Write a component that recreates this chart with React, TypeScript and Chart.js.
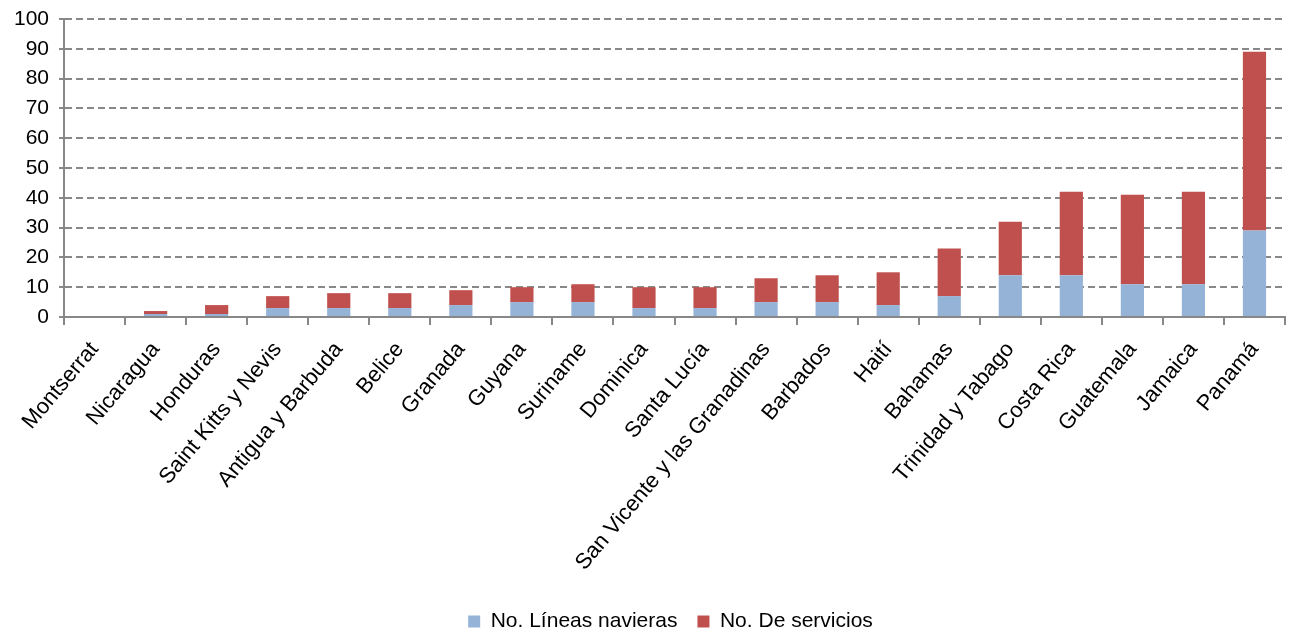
import React, { useEffect, useRef } from "react";
import { Chart, registerables } from "chart.js";

Chart.register(...registerables);

const categories = [
  "Montserrat", "Nicaragua", "Honduras", "Saint Kitts y Nevis", "Antigua y Barbuda",
  "Belice", "Granada", "Guyana", "Suriname", "Dominica", "Santa Lucía",
  "San Vicente y las Granadinas", "Barbados", "Haití", "Bahamas", "Trinidad y Tabago",
  "Costa Rica", "Guatemala", "Jamaica", "Panamá",
];
const lineasNavieras = [0, 1, 1, 3, 3, 3, 4, 5, 5, 3, 3, 5, 5, 4, 7, 14, 14, 11, 11, 29];
const servicios = [0, 1, 3, 4, 5, 5, 5, 5, 6, 7, 7, 8, 9, 11, 16, 18, 28, 30, 31, 60];
const yTicks = [0, 10, 20, 30, 40, 50, 60, 70, 80, 90, 100];

const FONT = "'Liberation Sans', Arial, sans-serif";
const FS = 21;
const CANVAS_H = 642;

const legendShift = {
  id: "legendShift",
  afterUpdate(chart: any) {
    const lg = chart.legend;
    if (lg) {
      lg.left += 26;
      lg.right += 26;
    }
  },
};

export default function App() {
  const ref = useRef<HTMLCanvasElement | null>(null);
  useEffect(() => {
    document.body.style.margin = "0";
    document.body.style.overflow = "hidden";
    const ctx = ref.current!;
    const chart = new Chart(ctx, {
      type: "bar",
      plugins: [legendShift],
      data: {
        labels: categories,
        datasets: [
          {
            label: "No. Líneas navieras",
            data: lineasNavieras,
            backgroundColor: "#95B3D7",
            categoryPercentage: 1,
            barPercentage: 0.38,
          },
          {
            label: "No. De servicios",
            data: servicios,
            backgroundColor: "#C0504D",
            categoryPercentage: 1,
            barPercentage: 0.38,
          },
        ],
      },
      options: {
        animation: false,
        responsive: false,
        maintainAspectRatio: false,
        layout: { padding: { top: 0, right: 6, left: 4, bottom: 0 } },
        plugins: {
          tooltip: { enabled: false },
          legend: {
            position: "bottom",
            labels: {
              boxWidth: 12,
              boxHeight: 12,
              color: "#000",
              font: { family: FONT, size: FS },
              padding: 20,
            },
          },
        },
        scales: {
          x: {
            stacked: true,
            afterFit: (axis: any) => {
              axis.height = 274;
            },
            grid: {
              offset: true,
              drawOnChartArea: false,
              drawTicks: true,
              tickLength: 8,
              color: "#888",
              lineWidth: 2,
              tickBorderDash: [],
            } as any,
            border: { display: true, color: "#888", width: 2 },
            ticks: {
              minRotation: 50,
              maxRotation: 50,
              autoSkip: false,
              color: "#000",
              font: { family: FONT, size: 22 },
              padding: 12,
            },
          },
          y: {
            stacked: true,
            min: 0,
            max: 100,
            afterBuildTicks: (axis: any) => {
              axis.ticks = yTicks.map((v) => ({ value: v }));
            },
            afterFit: (axis: any) => {
              axis.paddingTop = 19;
            },
            grid: {
              color: "#888",
              lineWidth: 2,
              drawTicks: true,
              tickLength: 5,
              tickBorderDash: [],
            } as any,
            border: { display: true, color: "#888", width: 2, dash: [7, 4] } as any,
            ticks: {
              color: "#000",
              font: { family: FONT, size: FS },
              padding: 10,
            },
          },
        },
      },
    });
    return () => chart.destroy();
  }, []);
  return (
    <div style={{ position: "absolute", left: 0, top: 0, width: 1291, height: 630, overflow: "hidden" }}>
      <canvas ref={ref} width={1291} height={CANVAS_H} style={{ width: 1291, height: CANVAS_H, display: "block" }} />
    </div>
  );
}
